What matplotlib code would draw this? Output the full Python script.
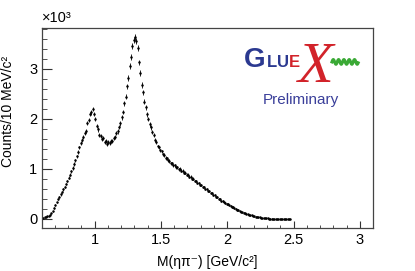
import numpy as np
import matplotlib
matplotlib.use('Agg')
import matplotlib.pyplot as plt

plt.rcParams['font.family'] = ['Liberation Sans', 'DejaVu Sans']

# M(eta pi-) bin lower edges: 10 MeV bins from 0.60 to 2.48 GeV
mass_start = 0.60
bin_width = 0.01

# counts per 10 MeV bin
counts = [
    10, 20, 30, 40, 50, 60, 80, 110, 150, 220,
    280, 330, 390, 440, 490, 540, 590, 640, 700, 760,
    820, 880, 950, 1020, 1100, 1170, 1250, 1340, 1430, 1510,
    1580, 1640, 1720, 1760, 1920, 1980, 2100, 2130, 2200, 2100,
    2000, 1860, 1790, 1680, 1660, 1590, 1610, 1540, 1560, 1500,
    1540, 1510, 1550, 1560, 1620, 1640, 1710, 1750, 1840, 1910,
    2030, 2140, 2310, 2440, 2650, 2820, 3060, 3240, 3450, 3570,
    3630, 3550, 3410, 3130, 2920, 2680, 2530, 2340, 2230, 2090,
    2000, 1890, 1830, 1730, 1670, 1580, 1530, 1450, 1430, 1370,
    1350, 1290, 1280, 1220, 1210, 1170, 1160, 1110, 1110, 1070,
    1070, 1030, 1030, 990, 1000, 960, 960, 920, 920, 880,
    880, 840, 840, 800, 800, 760, 760, 720, 720, 680,
    680, 640, 640, 600, 600, 560, 560, 520, 520, 480,
    480, 440, 440, 400, 400, 360, 360, 330, 325, 300,
    295, 270, 265, 240, 235, 210, 205, 180, 175, 150,
    148, 132, 127, 112, 108, 92, 88, 73, 69, 58,
    54, 44, 42, 34, 31, 24, 23, 17, 16, 11,
    10, 8, 7, 6, 5, 4, 4, 3, 3, 2,
    2, 2, 1, 1, 1, 1, 1, 1,
]

x_ticks = [1, 1.5, 2, 2.5, 3]
x_tick_labels = ['1', '1.5', '2', '2.5', '3']
y_ticks = [0, 1000, 2000, 3000]
y_tick_labels = ['0', '1', '2', '3']

counts = np.array(counts, dtype=float)
centers = mass_start + bin_width * (np.arange(len(counts)) + 0.5)
errors = np.sqrt(counts)

fig = plt.figure(figsize=(4.15, 2.71), dpi=100)
ax = fig.add_axes([0.1, 0.159, 0.799, 0.738])

ax.errorbar(centers, counts, yerr=errors, fmt='.', color='black',
            ms=1.6, elinewidth=0.6, capsize=0)

ax.set_xlim(0.6, 3.1)
ax.set_ylim(-180, 3820)
ax.set_xticks(x_ticks)
ax.set_xticklabels(x_tick_labels)
ax.set_xticks(np.arange(0.7, 3.1, 0.1), minor=True)
ax.set_yticks(y_ticks)
ax.set_yticklabels(y_tick_labels)
ax.set_yticks(np.arange(0, 3801, 200), minor=True)

ax.tick_params(axis='both', which='both', direction='in', labelsize=10.5,
               top=False, right=False, color='#333333')
ax.tick_params(axis='y', which='major', length=7, pad=3)
ax.tick_params(axis='y', which='minor', length=3.5)
ax.tick_params(axis='x', which='major', length=5, pad=4)
ax.tick_params(axis='x', which='minor', length=2.5)
for sp in ax.spines.values():
    sp.set_color('#444444')
    sp.set_linewidth(0.9)

ax.set_xlabel('M(ηπ⁻) [GeV/c²]', fontsize=10)
ax.xaxis.set_label_coords(0.5, -0.135)
ax.set_ylabel('Counts/10 MeV/c²', fontsize=10)
ax.yaxis.set_label_coords(-0.08, 0.58)

ax.text(0.0, 1.015, '×10³', transform=ax.transAxes, fontsize=10.5,
        ha='left', va='bottom')

# GlueX logo
blue = '#2b3990'
red = '#d2232a'
ax.text(0.644, 0.805, 'G', transform=ax.transAxes, fontsize=20,
        fontweight='bold', color=blue, ha='center', va='baseline')
ax.text(0.695, 0.805, 'L', transform=ax.transAxes, fontsize=12,
        fontweight='bold', color=blue, ha='center', va='baseline')
ax.text(0.729, 0.805, 'U', transform=ax.transAxes, fontsize=12,
        fontweight='bold', color=blue, ha='center', va='baseline')
ax.text(0.762, 0.805, 'E', transform=ax.transAxes, fontsize=12,
        fontweight='bold', color=red, ha='center', va='baseline')
ax.text(0.828, 0.80, 'X', transform=ax.transAxes, fontsize=42,
        family='Liberation Serif', style='italic', color=red,
        ha='center', va='center')
wave_x = np.linspace(0.876, 0.955, 60)
wave_y = 0.83 + 0.012 * np.sin((wave_x - 0.876) * 2 * np.pi / 0.016)
ax.plot(wave_x, wave_y, color='#3aa935', lw=2.2, transform=ax.transAxes)
ax.text(0.783, 0.64, 'Preliminary', transform=ax.transAxes, fontsize=11,
        color='#3a3f9a', ha='center', va='center')

fig.savefig('out.png', dpi=100)
